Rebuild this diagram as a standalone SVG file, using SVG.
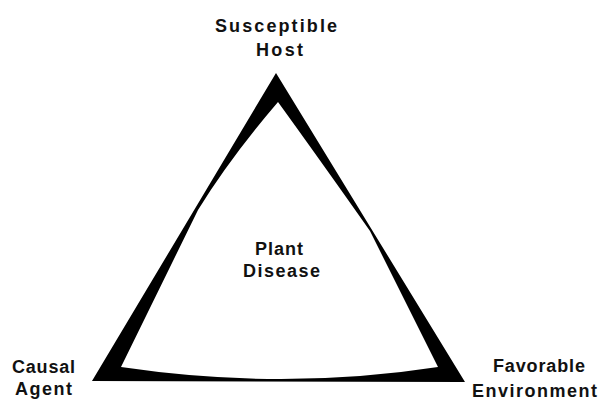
<svg xmlns="http://www.w3.org/2000/svg" width="603" height="402" viewBox="0 0 603 402">
  <style>
    .lbl { font-family: "Liberation Sans", Arial, sans-serif; font-weight: bold; font-size: 18px; fill: #111; text-anchor: middle; }
    .edge { fill: #000; fill-rule: evenodd; }
  </style>
  <rect width="603" height="402" fill="#fff"/>
  <g id="connectors">
    <path class="edge" d="M276,73 L465,382 L92,381 Z M278,102 Q230,158 198,210 L121,367 Q283,391 438,367 L370,231 Q320,160 278,102 Z"/>
  </g>
  <g id="host">
    <text class="lbl" x="276" y="32" textLength="122" lengthAdjust="spacing">Susceptible</text>
    <text class="lbl" x="279.5" y="56" textLength="47" lengthAdjust="spacing">Host</text>
  </g>
  <g id="agent">
    <text class="lbl" x="43.5" y="373" textLength="63" lengthAdjust="spacing">Causal</text>
    <text class="lbl" x="43.5" y="395" textLength="57" lengthAdjust="spacing">Agent</text>
  </g>
  <g id="environment">
    <text class="lbl" x="539" y="372" textLength="92" lengthAdjust="spacing">Favorable</text>
    <text class="lbl" x="534.5" y="397" textLength="125" lengthAdjust="spacing">Environment</text>
  </g>
  <g id="disease">
    <text class="lbl" x="279" y="255" textLength="48" lengthAdjust="spacing">Plant</text>
    <text class="lbl" x="281.5" y="277" textLength="77" lengthAdjust="spacing">Disease</text>
  </g>
</svg>
